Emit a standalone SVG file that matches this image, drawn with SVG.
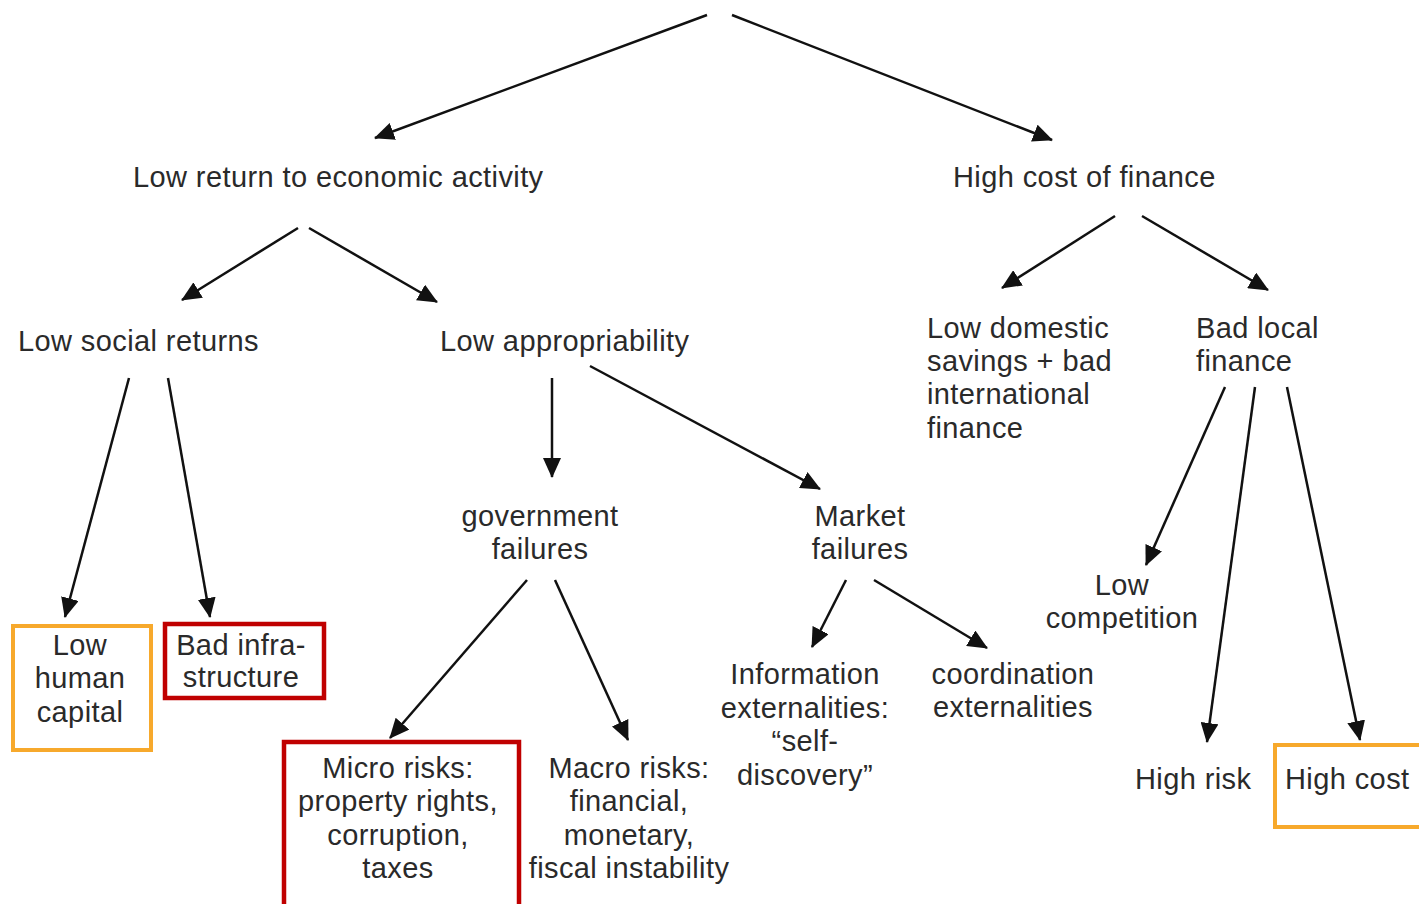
<svg xmlns="http://www.w3.org/2000/svg" width="1419" height="904" viewBox="0 0 1419 904">
<defs>
<marker id="ah" viewBox="0 0 20 18" refX="19" refY="9" markerWidth="20" markerHeight="18" markerUnits="userSpaceOnUse" orient="auto">
<path d="M0,0 L20,9 L0,18 z" fill="#111"/>
</marker>
<style>
text{font-family:"Liberation Sans",Arial,sans-serif;font-size:29px;fill:#2a2a2a;letter-spacing:0.4px}
.m{text-anchor:middle}
.c line{stroke:#111;stroke-width:2.5;marker-end:url(#ah)}
.o{fill:none;stroke:#F7A92C;stroke-width:4}
.r{fill:none;stroke:#C00000;stroke-width:4.5}
</style>
</defs>
<rect width="1419" height="904" fill="#fff"/>
<g class="c" id="connectors">
<line x1="707" y1="15" x2="375" y2="138"/>
<line x1="732" y1="15" x2="1052" y2="140"/>
<line x1="298" y1="228" x2="182" y2="300"/>
<line x1="309" y1="228" x2="437" y2="302"/>
<line x1="1115" y1="216" x2="1002" y2="288"/>
<line x1="1142" y1="216" x2="1268" y2="290"/>
<line x1="129" y1="378" x2="65" y2="617"/>
<line x1="168" y1="378" x2="210" y2="617"/>
<line x1="552" y1="378" x2="552" y2="477"/>
<line x1="590" y1="366" x2="820" y2="489"/>
<line x1="527" y1="580" x2="390" y2="738"/>
<line x1="555" y1="580" x2="628" y2="740"/>
<line x1="846" y1="580" x2="812" y2="647"/>
<line x1="874" y1="580" x2="987" y2="648"/>
<line x1="1225" y1="387" x2="1146" y2="565"/>
<line x1="1255" y1="387" x2="1207" y2="742"/>
<line x1="1287" y1="387" x2="1360" y2="740"/>
</g>
<g id="n-lowreturn"><text x="133" y="187">Low return to economic activity</text></g>
<g id="n-highcostfin"><text x="953" y="187">High cost of finance</text></g>
<g id="n-lowsocial"><text x="18" y="351">Low social returns</text></g>
<g id="n-lowapprop"><text x="440" y="351">Low appropriability</text></g>
<g id="n-lowdomestic"><text x="927" y="338">Low domestic</text><text x="927" y="371">savings + bad</text><text x="927" y="404">international</text><text x="927" y="438">finance</text></g>
<g id="n-badlocal"><text x="1196" y="338">Bad local</text><text x="1196" y="371">finance</text></g>
<g id="n-govfail"><text class="m" x="540" y="526">government</text><text class="m" x="540" y="559">failures</text></g>
<g id="n-marketfail"><text class="m" x="860" y="526">Market</text><text class="m" x="860" y="559">failures</text></g>
<g id="n-lowcomp"><text class="m" x="1122" y="595">Low</text><text class="m" x="1122" y="628">competition</text></g>
<g id="n-info"><text class="m" x="805" y="684">Information</text><text class="m" x="805" y="718">externalities:</text><text class="m" x="805" y="751">“self-</text><text class="m" x="805" y="785">discovery”</text></g>
<g id="n-coord"><text class="m" x="1013" y="684">coordination</text><text class="m" x="1013" y="717">externalities</text></g>
<g id="n-lowhuman"><rect class="o" x="13" y="626" width="138" height="124"/><text class="m" x="80" y="655">Low</text><text class="m" x="80" y="688">human</text><text class="m" x="80" y="722">capital</text></g>
<g id="n-badinfra"><rect class="r" x="165" y="624" width="159" height="74"/><text class="m" x="241" y="655">Bad infra-</text><text class="m" x="241" y="687">structure</text></g>
<g id="n-micro"><rect class="r" x="284" y="742" width="235" height="170"/><text class="m" x="398" y="778">Micro risks:</text><text class="m" x="398" y="811">property rights,</text><text class="m" x="398" y="845">corruption,</text><text class="m" x="398" y="878">taxes</text></g>
<g id="n-macro"><text class="m" x="629" y="778">Macro risks:</text><text class="m" x="629" y="811">financial,</text><text class="m" x="629" y="845">monetary,</text><text class="m" x="629" y="878">fiscal instability</text></g>
<g id="n-highrisk"><text x="1135" y="789">High risk</text></g>
<g id="n-highcost"><rect class="o" x="1275" y="745" width="150" height="82"/><text x="1285" y="789">High cost</text></g>
</svg>
